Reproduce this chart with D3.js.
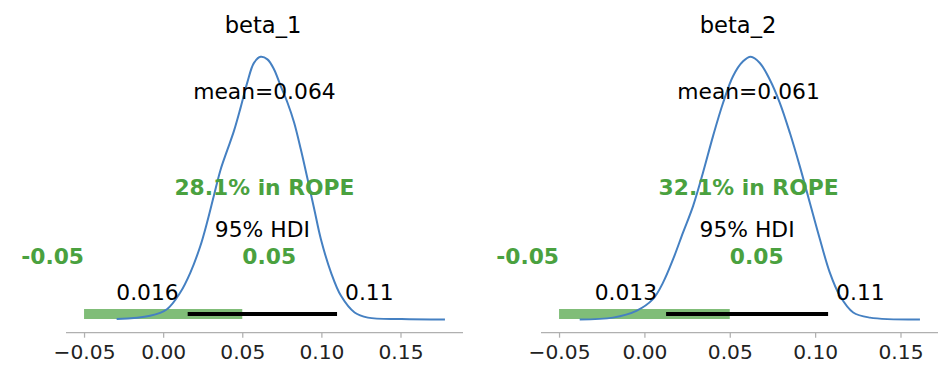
<!DOCTYPE html>
<html>
<head>
<meta charset="utf-8">
<script src="https://cdn.jsdelivr.net/npm/d3@7"></script>
<style>
  html, body { margin: 0; padding: 0; background: #fff; }
  svg { display: block; font-family: "DejaVu Sans", sans-serif; }
</style>
</head>
<body>
<svg id="chart" width="952" height="383"></svg>
<script>
// ---------------- data ----------------
const titles = ["beta_1", "beta_2"];
const means = [0.064, 0.061];
const meanLabels = ["mean=0.064", "mean=0.061"];
const hdiLow = [0.0155, 0.0127];
const hdiHigh = [0.1099, 0.1076];
const hdiLowLabels = ["0.016", "0.013"];
const hdiHighLabels = ["0.11", "0.11"];
const hdiProbLabel = "95% HDI";
const rope = [-0.05, 0.05];
const ropeLabels = ["-0.05", "0.05"];
const ropePct = ["28.1% in ROPE", "32.1% in ROPE"];
const tickValues = [-0.05, 0.00, 0.05, 0.10, 0.15];
const tickLabels = ["\u22120.05", "0.00", "0.05", "0.10", "0.15"];

// KDE points (x value, density)
const kde1X = [-0.0294, -0.0083, 0.0024, 0.0108, 0.0172, 0.0235, 0.0277, 0.0320, 0.0362, 0.0404,
               0.0447, 0.0489, 0.0532, 0.0574, 0.0616, 0.0659, 0.0701, 0.0743, 0.0786, 0.0828,
               0.0870, 0.0913, 0.0955, 0.0997, 0.1061, 0.1124, 0.1210, 0.1294, 0.1506, 0.1781];
const kde1Y = [0.03, 0.25, 0.69, 1.80, 3.13, 4.90, 6.45, 8.23, 9.95, 11.25,
               12.55, 14.10, 15.80, 17.10, 17.50, 17.33, 16.66, 15.55, 14.44, 13.11,
               11.34, 9.34, 7.35, 5.35, 3.13, 1.58, 0.47, 0.13, 0.03, 0.00];
const kde2X = [-0.0379, -0.0184, -0.0047, 0.0050, 0.0109, 0.0168, 0.0226, 0.0285, 0.0343, 0.0402,
               0.0461, 0.0519, 0.0578, 0.0623, 0.0676, 0.0734, 0.0793, 0.0852, 0.0910, 0.0969,
               0.1028, 0.1086, 0.1145, 0.1223, 0.1321, 0.1614];
const kde2Y = [0.00, 0.13, 0.58, 1.36, 2.46, 4.02, 5.79, 7.56, 9.78, 12.22,
               14.44, 16.21, 17.20, 17.50, 17.09, 15.99, 14.44, 12.44, 10.22, 7.78,
               5.35, 3.13, 1.58, 0.47, 0.13, 0.00];

const kdeX = [kde1X, kde2X];
const kdeY = [kde1Y, kde2Y];

// ---------------- layout ----------------
const svg = d3.select("#chart");
const panels = [
  { left: 66, right: 463 },
  { left: 541, right: 938 }
];
const axTop = 43.7, axBottom = 332.7;
const lineColor = "#4580c2";
const ropeColor = "#4aa13f";
const textColor = "#000";
const labelSize = 21.8;
const tickSize = 20.2;

panels.forEach((p, i) => {
  const xs = kdeX[i], ys = kdeY[i];
  const pts = xs.map((x, j) => [x, ys[j]]);
  const xmin = Math.min(d3.min(xs), rope[0], hdiLow[i]);
  const xmax = Math.max(d3.max(xs), rope[1], hdiHigh[i]);
  const xr = xmax - xmin;
  const x = d3.scaleLinear().domain([xmin - 0.05 * xr, xmax + 0.05 * xr]).range([p.left, p.right]);
  const peak = d3.max(ys);
  const y = d3.scaleLinear().domain([-0.05 * peak, 1.05 * peak]).range([axBottom, axTop]);
  const H = 1.05 * peak; // top of y-limits

  const g = svg.append("g");

  // title
  g.append("text")
    .attr("x", (p.left + p.right) / 2 - 1.5).attr("y", 33)
    .attr("text-anchor", "middle")
    .attr("font-size", 22.6).attr("fill", textColor)
    .text(titles[i]);

  // ROPE bar
  g.append("line")
    .attr("x1", x(rope[0])).attr("x2", x(rope[1]))
    .attr("y1", y(0.02 * H)).attr("y2", y(0.02 * H))
    .attr("stroke", ropeColor).attr("stroke-opacity", 0.7)
    .attr("stroke-width", 10).attr("stroke-linecap", "butt");

  // KDE line
  g.append("path")
    .datum(pts)
    .attr("d", d3.line().x(d => x(d[0])).y(d => y(d[1])).curve(d3.curveCatmullRom.alpha(0.5)))
    .attr("fill", "none").attr("stroke", lineColor).attr("stroke-width", 2);

  // HDI line
  g.append("line")
    .attr("x1", x(hdiLow[i])).attr("x2", x(hdiHigh[i]))
    .attr("y1", y(0.02 * H)).attr("y2", y(0.02 * H))
    .attr("stroke", "#000").attr("stroke-width", 4).attr("stroke-linecap", "butt");

  // HDI labels
  g.append("text")
    .attr("x", x(hdiLow[i])).attr("dx", -9).attr("y", y(0.07 * H))
    .attr("text-anchor", "end").attr("font-size", labelSize).attr("fill", textColor)
    .text(hdiLowLabels[i]);
  g.append("text")
    .attr("x", x(hdiHigh[i])).attr("dx", 8).attr("y", y(0.07 * H))
    .attr("text-anchor", "start").attr("font-size", labelSize).attr("fill", textColor)
    .text(hdiHighLabels[i]);
  g.append("text")
    .attr("x", x((hdiLow[i] + hdiHigh[i]) / 2)).attr("y", y(0.3 * H))
    .attr("text-anchor", "middle").attr("font-size", labelSize).attr("fill", textColor)
    .text(hdiProbLabel);

  // ROPE labels
  g.append("text")
    .attr("x", x(rope[0])).attr("y", y(0.2 * H))
    .attr("text-anchor", "end").attr("font-size", labelSize).attr("font-weight", "bold")
    .attr("fill", ropeColor).text(ropeLabels[0]);
  g.append("text")
    .attr("x", x(rope[1])).attr("y", y(0.2 * H))
    .attr("text-anchor", "start").attr("font-size", labelSize).attr("font-weight", "bold")
    .attr("fill", ropeColor).text(ropeLabels[1]);
  g.append("text")
    .attr("x", x(means[i])).attr("y", y(0.45 * H))
    .attr("text-anchor", "middle").attr("font-size", labelSize).attr("font-weight", "bold")
    .attr("fill", ropeColor).text(ropePct[i]);

  // mean label
  g.append("text")
    .attr("x", x(means[i])).attr("y", y(0.8 * H))
    .attr("text-anchor", "middle").attr("font-size", labelSize).attr("fill", textColor)
    .text(meanLabels[i]);

  // x axis
  const axis = d3.axisBottom(x)
    .tickValues(tickValues)
    .tickFormat((d, k) => tickLabels[k])
    .tickSize(5).tickPadding(7).tickSizeOuter(0);
  const ag = g.append("g").attr("transform", `translate(0,${axBottom})`).call(axis);
  ag.select(".domain").attr("stroke", "#b0b0b0").attr("stroke-width", 1.25)
    .attr("d", `M${p.left},0H${p.right}`);
  ag.selectAll(".tick line").attr("stroke", "#b0b0b0").attr("stroke-width", 1.25);
  ag.selectAll(".tick text").attr("font-size", tickSize).attr("fill", "#222")
    .attr("font-family", "DejaVu Sans, sans-serif");
});
</script>
</body>
</html>
